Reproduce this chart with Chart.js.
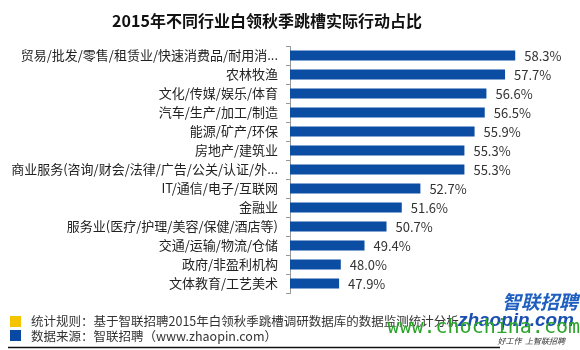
<!DOCTYPE html>
<html>
<head>
<meta charset="utf-8">
<script src="https://cdn.jsdelivr.net/npm/chart.js@4.4.0/dist/chart.umd.min.js"></script>
<style>
html,body{margin:0;padding:0;background:#fff;}
#c{display:block;}
</style>
</head>
<body>
<canvas id="c" width="580" height="350"></canvas>
<script>
const chartTitle = '2015年不同行业白领秋季跳槽实际行动占比';
const categories = [
  '贸易/批发/零售/租赁业/快速消费品/耐用消...',
  '农林牧渔',
  '文化/传媒/娱乐/体育',
  '汽车/生产/加工/制造',
  '能源/矿产/环保',
  '房地产/建筑业',
  '商业服务(咨询/财会/法律/广告/公关/认证/外...',
  'IT/通信/电子/互联网',
  '金融业',
  '服务业(医疗/护理/美容/保健/酒店等)',
  '交通/运输/物流/仓储',
  '政府/非盈利机构',
  '文体教育/工艺美术'
];
const values = [58.3, 57.7, 56.6, 56.5, 55.9, 55.3, 55.3, 52.7, 51.6, 50.7, 49.4, 48.0, 47.9];
const valueLabels = ['58.3%', '57.7%', '56.6%', '56.5%', '55.9%', '55.3%', '55.3%', '52.7%', '51.6%', '50.7%', '49.4%', '48.0%', '47.9%'];
const footerLines = ['统计规则：基于智联招聘2015年白领秋季跳槽调研数据库的数据监测统计分析', '数据来源：智联招聘（www.zhaopin.com）'];

const CJK = '"Noto Sans CJK SC", "Noto Sans", sans-serif';

const decor = {
  id: 'decor',
  afterDatasetsDraw(chart) {
    const ctx = chart.ctx;
    const meta = chart.getDatasetMeta(0);
    ctx.save();
    ctx.font = '13px ' + CJK;
    ctx.fillStyle = '#333';
    ctx.textAlign = 'left';
    ctx.textBaseline = 'middle';
    meta.data.forEach((bar, i) => {
      ctx.fillText(valueLabels[i], bar.x + 9, bar.y + 1);
    });
    ctx.restore();
  },
  afterDraw(chart) {
    const ctx = chart.ctx;
    ctx.save();
    // title
    ctx.font = 'bold 16px ' + CJK;
    ctx.fillStyle = '#111';
    ctx.textAlign = 'center';
    ctx.textBaseline = 'middle';
    ctx.fillText(chartTitle, 267, 21);
    // footer
    ctx.fillStyle = '#f5c400';
    ctx.fillRect(10, 316, 11, 11);
    ctx.fillStyle = '#0a49a3';
    ctx.fillRect(10, 330, 11, 11);
    ctx.font = '12.5px ' + CJK;
    ctx.fillStyle = '#333';
    ctx.textAlign = 'left';
    ctx.fillText(footerLines[0], 31, 321);
    ctx.fillText(footerLines[1], 31, 336);
    ctx.strokeStyle = '#111';
    ctx.lineWidth = 1.5;
    ctx.beginPath();
    ctx.moveTo(8, 347.5);
    ctx.lineTo(500, 347.5);
    ctx.stroke();
    // logo / watermark
    ctx.font = 'italic bold 19px ' + CJK;
    ctx.fillStyle = '#1e5fc0';
    ctx.textAlign = 'right';
    ctx.fillText('智联招聘', 578, 302);
    ctx.font = 'italic bold 19px "Liberation Sans", sans-serif';
    ctx.fillStyle = '#1a4fb0';
    ctx.fillText('zhaopin.com', 574, 321);
    ctx.font = '20px "DejaVu Sans Mono", monospace';
    ctx.fillStyle = '#2aa52a';
    ctx.fillText('www.chochina.com', 580, 328);
    ctx.font = 'italic 8px ' + CJK;
    ctx.fillStyle = '#333';
    ctx.fillText('好工作  上智联招聘', 565, 341);
    ctx.restore();
  }
};

new Chart(document.getElementById('c'), {
  type: 'bar',
  data: {
    labels: categories,
    datasets: [{
      data: values,
      backgroundColor: '#0b4da3',
      borderWidth: 0,
      barPercentage: 1,
      categoryPercentage: 0.53
    }]
  },
  options: {
    indexAxis: 'y',
    responsive: false,
    animation: false,
    devicePixelRatio: 1,
    layout: { padding: { left: 0, right: 36, top: 46, bottom: 57 } },
    plugins: { legend: { display: false }, tooltip: { enabled: false }, title: { display: false } },
    scales: {
      x: { display: false, min: 45, max: 60 },
      y: {
        afterFit(s) { s.width = 290; },
        grid: { display: true, drawOnChartArea: false, drawTicks: true, tickLength: 4, color: '#999', offset: true },
        border: { display: true, color: '#999' },
        ticks: { color: '#222', padding: 8, font: { family: CJK, size: 13 }, autoSkip: false }
      }
    }
  },
  plugins: [decor]
});
</script>
</body>
</html>
